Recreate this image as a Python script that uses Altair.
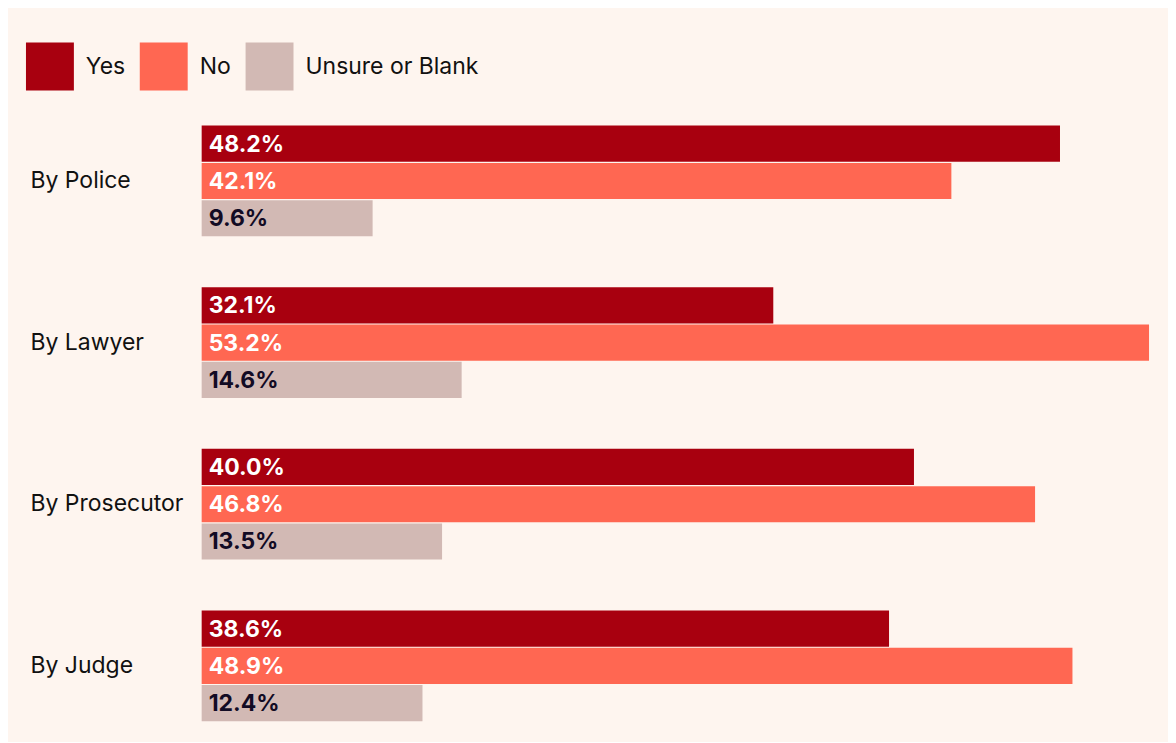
import altair as alt
import pandas as pd

categories = ["By Police", "By Lawyer", "By Prosecutor", "By Judge"]
responses = ["Yes", "No", "Unsure or Blank"]
yes_values = [48.2, 32.1, 40.0, 38.6]
no_values = [42.1, 53.2, 46.8, 48.9]
unsure_values = [9.6, 14.6, 13.5, 12.4]
colors = ["#a8000f", "#ff6752", "#d2b9b4"]

rows = []
for i, c in enumerate(categories):
    for r, vals in zip(responses, [yes_values, no_values, unsure_values]):
        rows.append({"category": c, "response": r, "value": vals[i]})
df = pd.DataFrame(rows)

FONT = "Inter"
FS = 23

y_enc = alt.Y(
    "category:N",
    sort=categories,
    scale=alt.Scale(paddingInner=0.315, paddingOuter=0.1),
    axis=alt.Axis(
        title=None, domain=False, ticks=False, labelPadding=172,
        labelAlign="left", labelFontSize=FS, labelColor="#111111",
        labelFont=FONT, labelLimit=300,
    ),
)
yoff_enc = alt.YOffset(
    "response:N", sort=responses, scale=alt.Scale(paddingInner=0.03, paddingOuter=0)
)
x_scale = alt.Scale(domain=[0, 53.2], nice=False, zero=True)
x_enc = alt.X("value:Q", scale=x_scale, axis=None)

base = alt.Chart(df).encode(y=y_enc, yOffset=yoff_enc)

bars = base.mark_bar(cornerRadius=0).encode(
    x=x_enc,
    color=alt.Color(
        "response:N",
        sort=responses,
        scale=alt.Scale(domain=responses, range=colors),
        legend=alt.Legend(
            title=None, orient="none", legendX=-176, legendY=-67,
            direction="horizontal", symbolType="square", symbolSize=2304,
            symbolStrokeWidth=0, symbolOpacity=1, labelOffset=12,
            labelFontSize=FS, labelFont=FONT, labelColor="#111111",
            labelLimit=300, columnPadding=14,
        ),
    ),
)

texts = base.mark_text(
    align="left", baseline="middle", dx=7, dy=1, fontSize=FS,
    fontWeight="bold", font=FONT,
).transform_calculate(
    label="format(datum.value, '.1f') + '%'"
).encode(
    x=alt.datum(0, scale=x_scale),
    text="label:N",
    color=alt.condition(
        "datum.response == 'Unsure or Blank'",
        alt.value("#120b24"),
        alt.value("#ffffff"),
    ),
)

chart = alt.layer(bars, texts).properties(
    width=949,
    height=629,
    autosize=alt.AutoSizeParams(type="none"),
    padding={"left": 194, "top": 101, "right": 19, "bottom": 4},
    background="#fef5ef",
).configure_view(stroke=None)

chart.save("out.html", embed_options={"renderer": "svg", "actions": False})
